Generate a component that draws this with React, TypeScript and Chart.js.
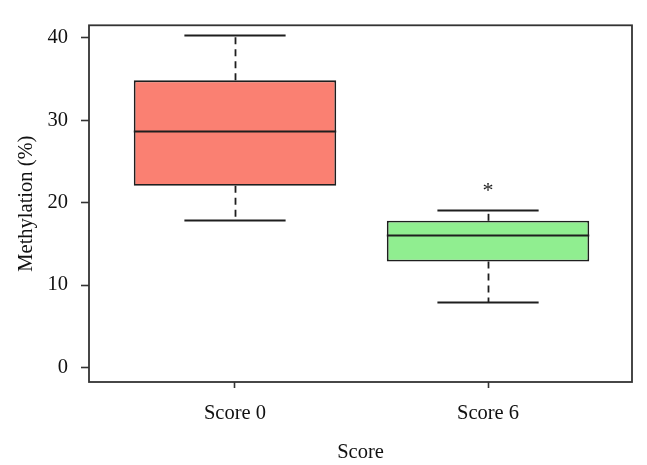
import React, { useEffect, useRef } from 'react';
import { Chart, registerables } from 'chart.js';

Chart.register(...registerables);

// ---- data ----
const categories = ['Score 0', 'Score 6'];
const positions = [1, 2];
const whiskerLow = [17.85, 7.95];
const q1 = [22.05, 12.85];
const median = [28.75, 16.05];
const q3 = [34.85, 17.8];
const whiskerHigh = [40.4, 19.1];
const outlierPos = [2];
const outlierVal = [21.0];
const yTicks = [0, 10, 20, 30, 40];
const boxColors = ['#FA8072', '#90EE90'];
const yTitle = 'Methylation (%)';
const xTitle = 'Score';

const FONT = "'Liberation Serif', 'DejaVu Serif', 'Times New Roman', serif";
const LINE = '#1e1e1e';

const boxExtras = {
  id: 'boxExtras',
  afterDatasetsDraw(chart: any) {
    const { ctx, scales } = chart;
    const x = scales.x;
    const y = scales.y;
    const meta = chart.getDatasetMeta(0);
    ctx.save();
    ctx.strokeStyle = LINE;
    ctx.lineWidth = 1.8;
    positions.forEach((p, i) => {
      const bar = meta.data[i];
      const props = bar.getProps(['x', 'width'], true);
      const cx = x.getPixelForValue(p);
      const left = props.x - props.width / 2;
      const right = props.x + props.width / 2;
      const capHalf = props.width / 4;
      // median
      ctx.setLineDash([]);
      const my = Math.round(y.getPixelForValue(median[i])) + 0.5;
      ctx.beginPath();
      ctx.moveTo(left, my);
      ctx.lineTo(right, my);
      ctx.stroke();
      // caps
      const hy = Math.round(y.getPixelForValue(whiskerHigh[i])) + 0.5;
      const ly = Math.round(y.getPixelForValue(whiskerLow[i])) + 0.5;
      ctx.beginPath();
      ctx.moveTo(cx - capHalf, hy);
      ctx.lineTo(cx + capHalf, hy);
      ctx.moveTo(cx - capHalf, ly);
      ctx.lineTo(cx + capHalf, ly);
      ctx.stroke();
      // dashed whiskers
      ctx.setLineDash([7, 5]);
      const cxr = Math.round(cx) + 0.5;
      ctx.beginPath();
      ctx.moveTo(cxr, y.getPixelForValue(q3[i]));
      ctx.lineTo(cxr, hy);
      ctx.stroke();
      ctx.beginPath();
      ctx.moveTo(cxr, y.getPixelForValue(q1[i]));
      ctx.lineTo(cxr, ly);
      ctx.stroke();
    });
    // outliers
    ctx.setLineDash([]);
    ctx.fillStyle = LINE;
    ctx.font = `22px ${FONT}`;
    ctx.textAlign = 'center';
    ctx.textBaseline = 'middle';
    outlierPos.forEach((p, i) => {
      ctx.fillText('*', x.getPixelForValue(p), y.getPixelForValue(outlierVal[i]) - 3);
    });
    ctx.restore();
  },
  afterDraw(chart: any) {
    const { ctx, chartArea } = chart;
    ctx.save();
    ctx.strokeStyle = '#333';
    ctx.lineWidth = 1.8;
    ctx.strokeRect(chartArea.left, chartArea.top, chartArea.right - chartArea.left, chartArea.bottom - chartArea.top);
    ctx.restore();
  },
};

export default function App() {
  const ref = useRef<HTMLCanvasElement | null>(null);
  useEffect(() => {
    if (!ref.current) return;
    const chart = new Chart(ref.current, {
      type: 'bar',
      data: {
        datasets: [
          {
            data: positions.map((p, i) => ({ x: p, y: [q1[i], q3[i]] })) as any,
            backgroundColor: boxColors,
            borderColor: LINE,
            borderWidth: 1.8,
            borderSkipped: false,
            categoryPercentage: 1,
            barPercentage: 0.8,
          },
        ],
      },
      options: {
        animation: false,
        responsive: true,
        maintainAspectRatio: false,
        layout: { padding: { top: 14, right: 15, left: 0, bottom: 0 } },
        plugins: { legend: { display: false }, tooltip: { enabled: false } },
        scales: {
          x: {
            type: 'linear',
            offset: false,
            min: 0.423,
            max: 2.569,
            afterBuildTicks: (s: any) => {
              s.ticks = positions.map((v) => ({ value: v }));
            },
            afterFit: (s: any) => {
              s.height = 83;
            },
            grid: {
              offset: false,
              drawOnChartArea: false,
              drawTicks: true,
              tickLength: 6,
              tickColor: '#333',
              tickWidth: 1.6,
            },
            border: { display: false },
            ticks: {
              color: '#111',
              font: { family: FONT, size: 20.5 },
              padding: 13,
              maxRotation: 0,
              callback: (v: any) => categories[positions.indexOf(Number(v))] ?? '',
            },
            title: {
              display: true,
              text: xTitle,
              color: '#111',
              font: { family: FONT, size: 20.5 },
              padding: { top: 6, bottom: 0 },
            },
          },
          y: {
            type: 'linear',
            min: -1.765,
            max: 41.53,
            afterBuildTicks: (s: any) => {
              s.ticks = yTicks.map((v) => ({ value: v }));
            },
            afterFit: (s: any) => {
              s.width = 89;
            },
            grid: {
              drawOnChartArea: false,
              drawTicks: true,
              tickLength: 8,
              tickColor: '#333',
              tickWidth: 1.6,
            },
            border: { display: false },
            ticks: {
              color: '#111',
              font: { family: FONT, size: 20.5 },
              padding: 13,
            },
            title: {
              display: true,
              text: yTitle,
              color: '#111',
              font: { family: FONT, size: 20.5 },
              padding: { top: 14, bottom: 0 },
            },
          },
        },
      },
      plugins: [boxExtras],
    });
    return () => chart.destroy();
  }, []);
  return (
    <div style={{ position: 'fixed', left: 0, top: 0, width: 647, height: 465, background: '#fff' }}>
      <canvas ref={ref} />
    </div>
  );
}
